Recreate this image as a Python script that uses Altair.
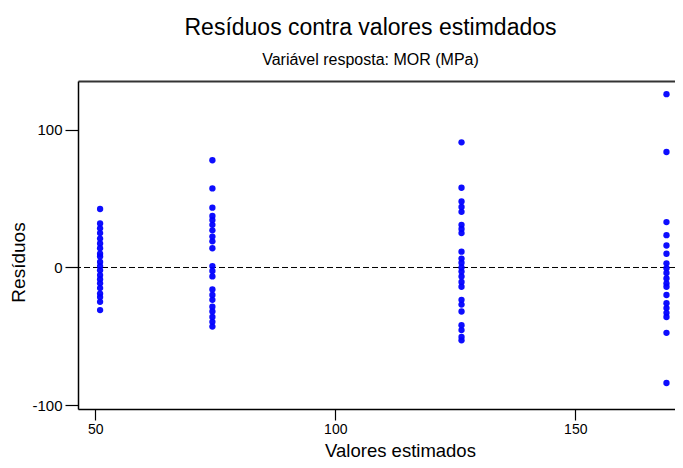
import altair as alt
import pandas as pd

# Fitted values (x) for each group and their residuals
fitted = [51.0, 74.4, 126.3, 169.0]
res_g1 = [42.5, 32, 28.5, 25, 21, 17.5, 14, 10, 8, 4, 1, -2, -5.5, -8.5, -11.5,
          -15, -19, -21.5, -25, -31]
res_g2 = [78, 57.5, 43.5, 37.5, 34.5, 31, 27, 22.5, 19, 14, 1, -2.5, -6.5, -16,
          -20, -23.5, -28.5, -32, -36, -39.5, -43]
res_g3 = [91, 58, 48, 44, 40.5, 31, 28, 25, 11.5, 6.5, 3.5, 0, -3, -6.5, -10.5,
          -14, -23.5, -27, -32, -42, -45.5, -50.5, -53]
res_g4 = [126, 84, 33, 23.5, 16, 10, 3, -0.5, -4, -8, -11.5, -14, -20, -26,
          -29.5, -33, -36, -47.5, -84]
x_ticks = [50, 100, 150]
y_ticks = [-100, 0, 100]

rows = []
for fx, vals in zip(fitted, [res_g1, res_g2, res_g3, res_g4]):
    for v in vals:
        rows.append({"fit": fx, "res": v})
df = pd.DataFrame(rows)
zero = pd.DataFrame({"res": [0]})

W, H = 597, 328
xdom = [46.4, 46.4 + W / 4.8]
ydom = [-102.9, 135.6]
FONT = "Liberation Sans"
xscale = alt.Scale(domain=xdom, nice=False, zero=False)
yscale = alt.Scale(domain=ydom, nice=False, zero=False)

xenc = alt.X("fit:Q", scale=xscale,
             axis=alt.Axis(values=x_ticks, title="Valores estimados", grid=False,
                           tickSize=11, labelPadding=2, labelFontSize=14,
                           titleFontSize=18.5, titleFontWeight="normal",
                           titleX=322, titleY=47, titleBaseline="alphabetic",
                           domain=True, domainColor="black", domainWidth=1.5))
yenc = alt.Y("res:Q", scale=yscale,
             axis=alt.Axis(values=y_ticks, title="Resíduos", grid=False,
                           tickSize=13, labelPadding=3, labelFontSize=15,
                           labelExpr="'' + datum.value",
                           titleFontSize=19, titleFontWeight="normal",
                           titleX=-60, titleY=181, titleAngle=-90,
                           titleAlign="center", titleBaseline="middle",
                           domain=True, domainColor="black", domainWidth=1.5))

points = alt.Chart(df).mark_circle(size=40, color="#0000ff", opacity=0.95).encode(
    x=xenc, y=yenc)

zline = alt.Chart(zero).mark_rule(color="black", strokeDash=[6, 3], strokeWidth=1).encode(
    y=alt.Y("res:Q", scale=yscale, axis=None))

topline = alt.Chart(df).mark_point(opacity=0).encode(
    x=alt.X("fit:Q", scale=xscale,
            axis=alt.Axis(orient="top", labels=False, ticks=False, title=None,
                          grid=False, domain=True, domainColor="#333333",
                          domainWidth=2)))

chart = alt.layer(zline, points, topline).resolve_axis(
    x="independent", y="independent"
).properties(
    width=W, height=H,
    background="white",
    title=alt.TitleParams(
        text="Resíduos contra valores estimdados",
        subtitle="Variável resposta: MOR (MPa)",
        anchor="middle", fontSize=23, subtitleFontSize=16,
        fontWeight="normal", font=FONT, subtitleFont=FONT,
        color="black", subtitleColor="black", offset=13, subtitlePadding=12,
        dx=-6),
    autosize=alt.AutoSizeParams(type="none"),
    padding={"left": 70, "top": 73, "right": 0, "bottom": 51},
).configure_view(
    strokeWidth=0
).configure_axis(
    labelFont=FONT, titleFont=FONT, labelColor="black", titleColor="black",
    tickColor="black", tickWidth=1.2
)

chart.save("out.html", embed_options={"renderer": "svg", "actions": False})
